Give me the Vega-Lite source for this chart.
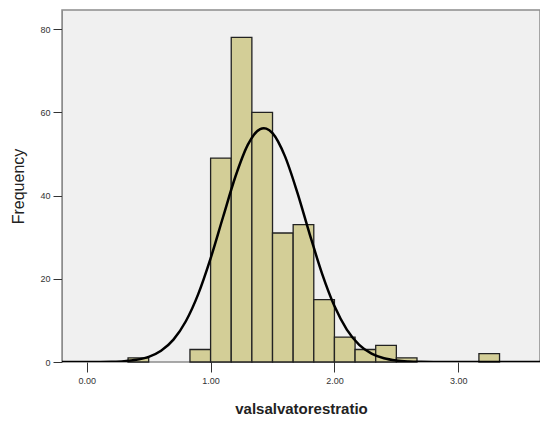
{
  "$schema": "https://vega.github.io/schema/vega-lite/v6.json",
  "autosize": "none",
  "width": 478,
  "height": 352,
  "padding": {"left": 62, "top": 10, "right": 0, "bottom": 62},
  "background": "white",
  "config": {
    "view": {"fill": "#f0f0f0", "stroke": "#8c8c8c", "strokeWidth": 1.5},
    "font": "Liberation Sans",
    "axis": {"grid": false, "labelFont": "Liberation Sans", "titleFont": "Liberation Sans", "labelColor": "#333", "titleColor": "#222", "domainColor": "#8c8c8c", "tickColor": "#333", "labelFontSize": 9}
  },
  "datasets": {
    "bins": [
      {"start": 0.3333, "end": 0.5, "count": 1},
      {"start": 0.8333, "end": 1.0, "count": 3},
      {"start": 1.0, "end": 1.1667, "count": 49},
      {"start": 1.1667, "end": 1.3333, "count": 78},
      {"start": 1.3333, "end": 1.5, "count": 60},
      {"start": 1.5, "end": 1.6667, "count": 31},
      {"start": 1.6667, "end": 1.8333, "count": 33},
      {"start": 1.8333, "end": 2.0, "count": 15},
      {"start": 2.0, "end": 2.1667, "count": 6},
      {"start": 2.1667, "end": 2.3333, "count": 3},
      {"start": 2.3333, "end": 2.5, "count": 4},
      {"start": 2.5, "end": 2.6667, "count": 1},
      {"start": 3.1667, "end": 3.3333, "count": 2}
    ],
    "curve": [
      {"x": -0.2, "y": 0.0005},
      {"x": 0.0, "y": 0.007},
      {"x": 0.1, "y": 0.023},
      {"x": 0.2, "y": 0.072},
      {"x": 0.3, "y": 0.204},
      {"x": 0.4, "y": 0.527},
      {"x": 0.5, "y": 1.247},
      {"x": 0.6, "y": 2.71},
      {"x": 0.7, "y": 5.38},
      {"x": 0.8, "y": 9.79},
      {"x": 0.9, "y": 16.31},
      {"x": 1.0, "y": 24.9},
      {"x": 1.1, "y": 34.79},
      {"x": 1.2, "y": 44.52},
      {"x": 1.3, "y": 52.17},
      {"x": 1.35, "y": 54.64},
      {"x": 1.4, "y": 55.98},
      {"x": 1.43, "y": 56.2},
      {"x": 1.45, "y": 56.1},
      {"x": 1.5, "y": 55.0},
      {"x": 1.6, "y": 49.48},
      {"x": 1.7, "y": 40.77},
      {"x": 1.8, "y": 30.76},
      {"x": 1.9, "y": 21.25},
      {"x": 2.0, "y": 13.44},
      {"x": 2.1, "y": 7.79},
      {"x": 2.2, "y": 4.13},
      {"x": 2.3, "y": 2.01},
      {"x": 2.4, "y": 0.89},
      {"x": 2.5, "y": 0.36},
      {"x": 2.6, "y": 0.136},
      {"x": 2.7, "y": 0.046},
      {"x": 2.8, "y": 0.015},
      {"x": 3.0, "y": 0.001},
      {"x": 3.3, "y": 0},
      {"x": 3.66, "y": 0}
    ]
  },
  "layer": [
    {
      "data": {"name": "bins"},
      "mark": {"type": "rect", "fill": "#d3ce97", "stroke": "#222", "strokeWidth": 1.3},
      "encoding": {
        "x": {"field": "start", "type": "quantitative",
              "scale": {"domain": [-0.2, 3.66], "nice": false, "zero": false},
              "axis": {"values": [0, 1, 2, 3], "format": ".2f", "tickSize": 10, "labelPadding": 4, "domain": false,
                       "title": "valsalvatorestratio", "titleFontSize": 15, "titleFontWeight": "bold", "titlePadding": 16}},
        "x2": {"field": "end"},
        "y": {"field": "count", "type": "quantitative",
              "scale": {"domain": [0, 84.6], "nice": false},
              "axis": {"values": [0, 20, 40, 60, 80], "tickSize": 9, "labelPadding": 3,
                       "title": "Frequency", "titleFontSize": 16, "titleFontWeight": "normal", "titlePadding": 13}},
        "y2": {"datum": 0}
      }
    },
    {
      "data": {"name": "curve"},
      "mark": {"type": "line", "color": "black", "strokeWidth": 2.5, "interpolate": "monotone", "clip": true},
      "encoding": {
        "x": {"field": "x", "type": "quantitative"},
        "y": {"field": "y", "type": "quantitative"}
      }
    }
  ]
}
